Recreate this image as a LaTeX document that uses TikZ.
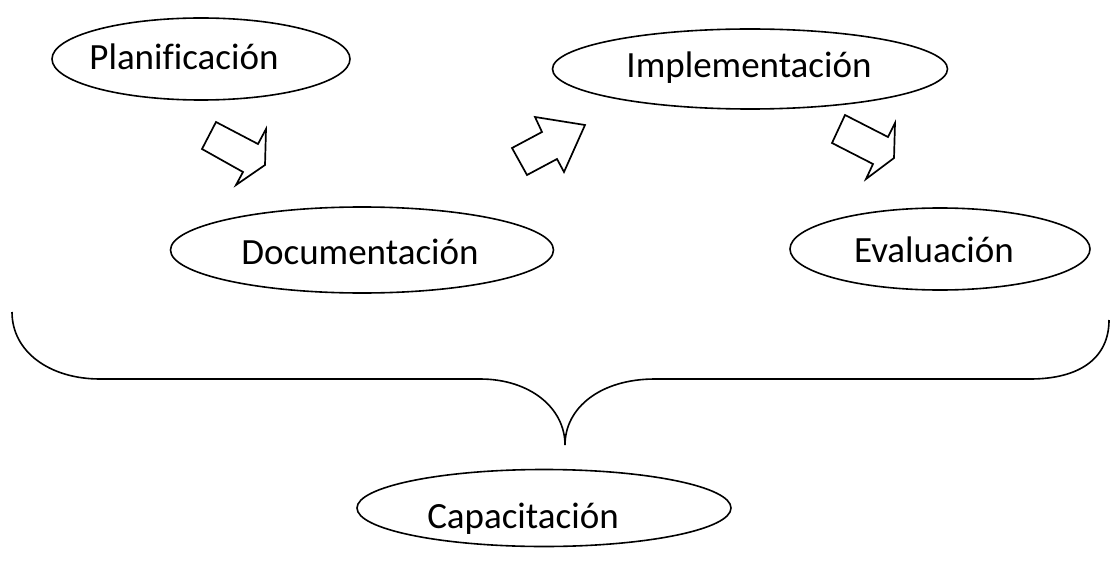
\documentclass[tikz,border=0pt]{standalone}
\usepackage{fontspec}
\setmainfont{Carlito}[Ligatures={NoCommon}]
\usetikzlibrary{shapes.geometric}
\begin{document}
\begin{tikzpicture}[x=1pt,y=-1pt,
  line width=1.6pt, line join=miter,
  oval/.style={draw, ellipse, inner sep=0pt},
  lbl/.style={inner sep=0pt, font=\fontsize{37}{44}\selectfont},
  blockarrow/.style={draw, line width=1.7pt}]
\useasboundingbox (0,0) rectangle (1115,580);

% stages
\node[oval, minimum width=298pt, minimum height=82pt] (plan) at (201,59) {};
\node[lbl] (plan-t) at (184,57) {Planificación};

\node[oval, minimum width=395pt, minimum height=80pt] (impl) at (750,69) {};
\node[lbl] (impl-t) at (749,68) {Implementación};

\node[oval, minimum width=383pt, minimum height=86pt] (doc) at (362,250) {};
\node[lbl] (doc-t) at (360,252) {Documentación};

\node[oval, minimum width=300pt, minimum height=82pt] (eval) at (940,249) {};
\node[lbl] (eval-t) at (934,250) {Evaluación};

\node[oval, minimum width=374pt, minimum height=77pt] (cap) at (544,508) {};
\node[lbl] (cap-t) at (523,519) {Capacitación};

% block arrows between stages
\draw[blockarrow] (216,122) -- (258,144) -- (266,129) -- (265,165)
  -- (236,185) -- (243,172) -- (202,149) -- cycle;
\draw[blockarrow] (512,148) -- (542,132) -- (535,117) -- (585,125)
  -- (564,172) -- (557,159) -- (527,175) -- cycle;
\draw[blockarrow] (845,115) -- (888,137) -- (895,123) -- (894,158)
  -- (866,179) -- (873,164) -- (832,143) -- cycle;

% brace gathering the stages
\draw (12,312) .. controls (12,352) and (50,379) .. (100,379)
  -- (480,379) .. controls (530,379) and (565,408) .. (565,445)
  .. controls (565,408) and (600,379) .. (655,379)
  -- (1030,379) .. controls (1080,379) and (1109,358) .. (1109,320);
\end{tikzpicture}
\end{document}
